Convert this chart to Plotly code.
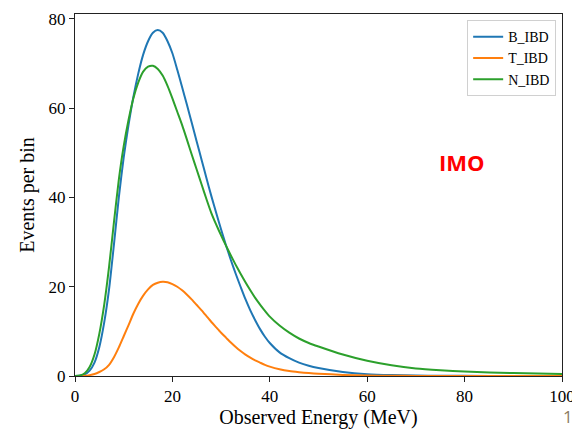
import plotly.graph_objects as go

# Observed energy grid (MeV)
energy = [0, 1, 2, 3, 4, 5, 6, 7, 8, 9, 10, 11, 12, 13, 14, 15, 16, 17, 18, 19, 20,
          21, 22, 23, 24, 25, 26, 27, 28, 29, 30, 31, 32, 33, 34, 35, 36, 37, 38, 39, 40,
          42, 44, 46, 48, 50, 55, 60, 65, 70, 75, 80, 90, 100]

b_ibd = [0, 0.05, 0.35, 1.2, 3.0, 6.5, 12.0, 19.5, 29.5, 40.0, 49.0, 56.3, 62.6, 67.8, 72.0, 75.0, 76.9, 77.5, 76.9, 75.0, 72.3,
         68.6, 64.7, 60.7, 56.6, 52.5, 48.4, 44.3, 40.3, 36.5, 32.8, 29.3, 26.0, 22.9, 20.0, 17.2, 14.7, 12.5, 10.5, 8.8, 7.4,
         5.3, 4.0, 3.0, 2.3, 1.8, 0.9, 0.4, 0.2, 0.1, 0.05, 0.03, 0.01, 0.0]

t_ibd = [0, 0.01, 0.05, 0.2, 0.45, 0.9, 1.5, 2.5, 4.2, 6.4, 8.9, 11.4, 14.0, 16.2, 18.0, 19.4, 20.4, 20.9, 21.1, 21.0, 20.6,
         20.0, 19.2, 18.2, 17.1, 15.9, 14.7, 13.4, 12.1, 10.9, 9.7, 8.6, 7.5, 6.5, 5.6, 4.8, 4.1, 3.5, 3.0, 2.5, 2.1,
         1.5, 1.1, 0.85, 0.65, 0.5, 0.25, 0.1, 0.05, 0.02, 0.01, 0.0, 0.0, 0.0]

n_ibd = [0, 0.1, 0.6, 2.0, 4.8, 9.5, 16.0, 24.5, 34.5, 44.0, 51.5, 57.4, 62.3, 65.8, 68.2, 69.3, 69.5, 68.8, 67.3, 65.0, 62.2,
         59.2, 56.2, 52.9, 49.5, 46.2, 42.9, 39.6, 36.5, 33.9, 31.5, 29.2, 27.0, 24.9, 22.9, 21.0, 19.2, 17.5, 16.0, 14.6, 13.3,
         11.3, 9.7, 8.4, 7.4, 6.6, 4.8, 3.4, 2.4, 1.7, 1.3, 1.0, 0.65, 0.45]

series = [("B_IBD", b_ibd, "#1f77b4"), ("T_IBD", t_ibd, "#ff7f0e"), ("N_IBD", n_ibd, "#2ca02c")]

x_ticks = [0, 20, 40, 60, 80, 100]
y_ticks = [0, 20, 40, 60, 80]

fig = go.Figure()
for name, vals, col in series:
    fig.add_trace(go.Scatter(x=energy, y=vals, name=name, mode="lines",
                             line=dict(color=col, width=2, shape="spline", smoothing=0.6)))

serif = "Liberation Serif"
axis_common = dict(showline=True, linecolor="#222222", linewidth=1, mirror=True,
                   ticks="outside", ticklen=5, tickwidth=1, tickcolor="#222222",
                   showgrid=False, zeroline=False, automargin=False,
                   tickfont=dict(family=serif, size=17, color="black"))

# The page body has an 8px margin, so the figure is 572x422 and sits at (8, 8).
fig.update_layout(
    width=572, height=422,
    margin=dict(l=67, r=18, t=6, b=54),
    paper_bgcolor="white", plot_bgcolor="white",
    xaxis=dict(range=[0, 100], tickvals=x_ticks,
               title=dict(text="Observed Energy (MeV)", font=dict(family=serif, size=20, color="black"), standoff=2),
               **axis_common),
    yaxis=dict(range=[0, 81.1], tickvals=y_ticks,
               title=dict(text="Events per bin", font=dict(family=serif, size=20, color="black"), standoff=8),
               **axis_common),
    legend=dict(x=0.988, y=0.983, xanchor="right", yanchor="top",
                bgcolor="white", bordercolor="#d0d0d0", borderwidth=1,
                font=dict(family=serif, size=14, color="black"),
                tracegroupgap=0, itemwidth=30),
    showlegend=True,
)

fig.add_annotation(x=1.012, y=-0.149, xref="paper", yref="paper", text="1", showarrow=False,
                   xanchor="center", yanchor="bottom",
                   font=dict(family="Open Sans", size=17, color="#8c7b62"))
fig.add_annotation(x=79.4, y=48, xref="x", yref="y", text="<b>IMO</b>", showarrow=False,
                   font=dict(family="Open Sans", size=22, color="#ff0000"))

fig.write_html("out.html")
